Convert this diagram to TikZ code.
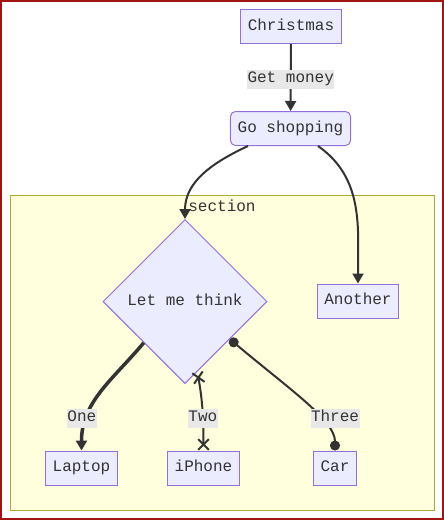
\documentclass[tikz,border=0pt]{standalone}
\usepackage{fontspec}
\newfontfamily\mmdfont{Liberation Mono}
\definecolor{nodefill}{HTML}{ECECFF}
\definecolor{nodeline}{HTML}{9370DB}
\definecolor{inkgray}{HTML}{333333}
\definecolor{lblbg}{HTML}{E8E8E8}
\definecolor{secfill}{HTML}{FFFFDE}
\definecolor{secline}{HTML}{AAAA33}
\definecolor{framered}{RGB}{160,20,20}
\usetikzlibrary{positioning,arrows.meta,shapes.geometric}
\tikzset{
  nbox/.style={draw=nodeline,fill=nodefill,line width=1pt,
               minimum height=34pt,inner xsep=7.2pt,
               text height=11pt,text depth=3.5pt,
               font=\mmdfont\fontsize{16}{19}\selectfont,text=inkgray},
  rbox/.style={nbox,rounded corners=5pt},
  dbox/.style={nbox,diamond,minimum size=164pt,inner sep=0pt},
  secbox/.style={draw=secline,fill=secfill,line width=1pt,
                 minimum width=424pt,minimum height=315pt},
  seclbl/.style={font=\mmdfont\fontsize{16}{19}\selectfont,text=inkgray,
                 inner sep=0pt,text height=11pt,text depth=3.5pt},
  elbl/.style={fill=lblbg,inner xsep=0.5pt,inner ysep=2pt,
               text height=11pt,text depth=4pt,
               font=\mmdfont\fontsize{16}{19}\selectfont,text=inkgray},
  edge/.style={line width=2pt,draw=inkgray},
  arr/.style={edge,-{Triangle[length=10pt,width=11pt]}},
  xtip/.style={edge,{Rays[n=4,length=15pt,width=15pt]}-{Rays[n=4,length=15pt,width=15pt]}},
  otip/.style={edge,{Circle[length=10pt]}-{Circle[length=10pt]}},
}

\begin{document}
\begin{tikzpicture}[x=1pt,y=1pt]
  \useasboundingbox (0,0) rectangle (444,-520);
  \fill[white] (0,0) rectangle (444,-520);
  \draw[framered,line width=2pt] (1,-1) rectangle (443,-519);

  \node[secbox] (sec) at (222,-352.5) {};
  \node[seclbl,below=6pt of sec.north] (sectitle) {section};

  \node[nbox] (xmas) at (291,-26.5) {Christmas};
  \node[rbox] (shop) at (290.5,-128.5) {Go shopping};
  \node[dbox] (think) at (185,-301.5) {Let me think};
  \node[nbox] (another) at (358,-301) {Another};
  \node[nbox] (laptop) at (81.5,-468) {Laptop};
  \node[nbox] (iphone) at (203.5,-468) {iPhone};
  \node[nbox] (car) at (335,-468) {Car};

  \draw[arr] (xmas) -- node[elbl,yshift=-1.5pt] {Get money} (shop);
  \draw[arr] ([xshift=18pt]shop.south west) to[out=-155,in=90] (think.north);
  \draw[arr] ([xshift=-33pt]shop.south east) to[out=-35,in=90] (another.north);
  \draw[arr,line width=3.5pt] (think.south west) to[out=-130,in=90]
    node[elbl,pos=0.75,xshift=-5pt] {One} (laptop.north);
  \draw[xtip] (think.-80) to[out=-80,in=90]
    node[elbl,pos=0.6] {Two} (iphone.north);
  \draw[otip] (think.-40) .. controls +(-40:80) and +(90:30) ..
    node[elbl,pos=0.65,xshift=15pt] {Three} (car.north);
\end{tikzpicture}
\end{document}
